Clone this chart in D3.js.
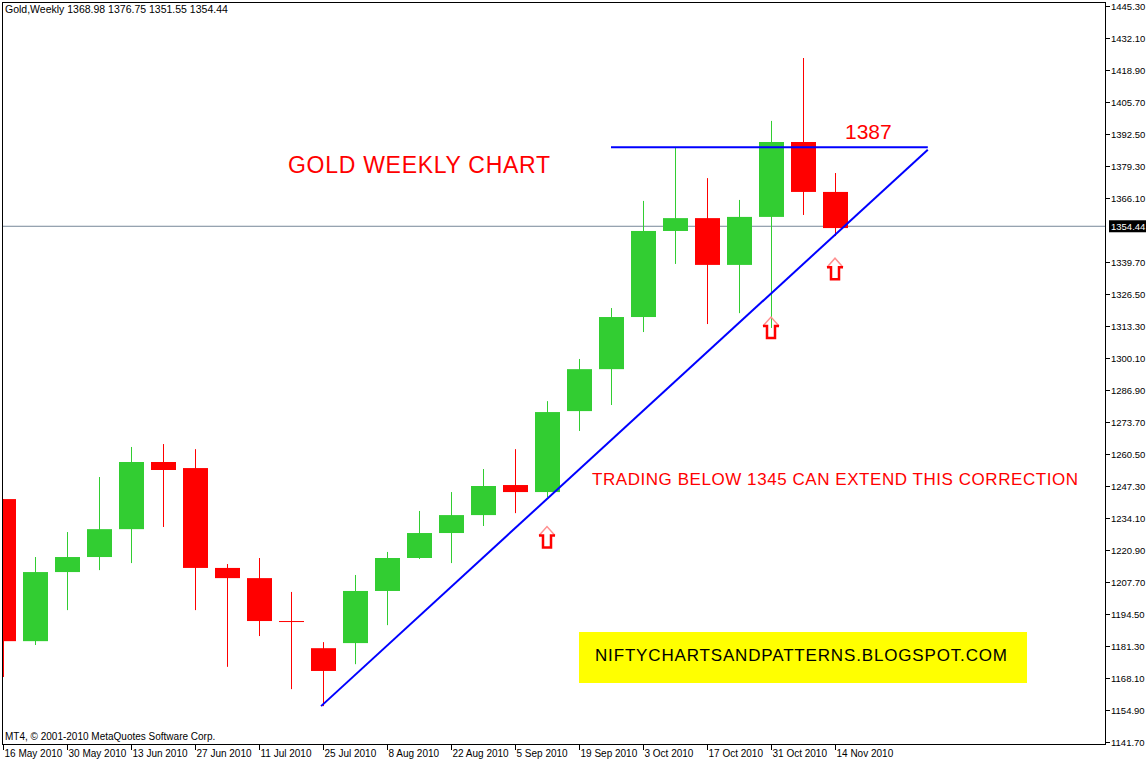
<!DOCTYPE html>
<html><head><meta charset="utf-8">
<script src="https://cdn.jsdelivr.net/npm/d3@7/dist/d3.min.js"></script>
<style>body{margin:0;background:#fff}svg{display:block}</style>
</head><body><div id="chart"></div>
<script>
// weekly candles, index 0 = 16 May 2010
const opens  = [1241.9,1183.3,1211.8,1218.0,1229.5,1257.2,1254.7,1213.5,1209.3,1191.6,1180.4,1182.5,1204.0,1217.6,1227.9,1235.3,1247.7,1244.8,1278.2,1295.5,1317.0,1352.5,1357.8,1338.5,1358.3,1389.2,1368.6];
const highs  = [1241.9,1218.0,1228.3,1251.0,1263.4,1264.6,1262.5,1215.1,1217.6,1203.6,1182.9,1210.6,1220.1,1237.0,1244.8,1254.3,1262.5,1282.3,1299.7,1320.7,1364.9,1386.7,1374.3,1365.3,1397.9,1423.85,1376.4];
const lows   = [1168.5,1181.7,1196.1,1212.6,1215.5,1230.4,1196.1,1172.7,1185.4,1163.5,1156.5,1173.8,1189.9,1217.2,1215.5,1230.8,1236.1,1242.7,1270.0,1280.7,1310.8,1338.9,1314.1,1318.6,1312.5,1359.1,1350.4];
const closes = [1183.3,1211.8,1218.0,1229.5,1257.2,1253.9,1213.5,1209.3,1191.6,1191.6,1171.0,1204.0,1217.6,1227.9,1235.3,1247.3,1244.8,1277.8,1295.5,1317.0,1352.5,1357.8,1338.5,1358.3,1389.2,1368.6,1353.7];
const dateLabels = ["16 May 2010","30 May 2010","13 Jun 2010","27 Jun 2010","11 Jul 2010","25 Jul 2010","8 Aug 2010","22 Aug 2010","5 Sep 2010","19 Sep 2010","3 Oct 2010","17 Oct 2010","31 Oct 2010","14 Nov 2010"];
const priceTicks = [1445.30,1432.10,1418.90,1405.70,1392.50,1379.30,1366.10,1339.70,1326.50,1313.30,1300.10,1286.90,1273.70,1260.50,1247.30,1234.10,1220.90,1207.70,1194.50,1181.30,1168.10,1154.90,1141.70];
const lastPrice = 1354.44;
const level = 1387;
const trendFrom = [9.94, 1156.5], trendTo = [28.9, 1386];
const arrowAt = [[17, 1231], [24, 1317.4], [26, 1341.7]];

const W = 1146, H = 762;
const sans = '"Liberation Sans", Arial, sans-serif';
const svg = d3.select('#chart').append('svg').attr('width', W).attr('height', H)
  .style('font-family', sans);

const x = d3.scaleLinear().domain([0, 1]).range([3, 35]);
const y = d3.scaleLinear().domain([1141.7, 1445.3]).range([742, 6]);

const plot = svg.append('g');
plot.append('clipPath').attr('id', 'clip').append('rect').attr('x', 2).attr('y', 2).attr('width', 1104).attr('height', 743);
const inner = plot.append('g').attr('clip-path', 'url(#clip)');

// last price line
inner.append('line').attr('x1', 2).attr('x2', 1106).attr('y1', y(lastPrice)).attr('y2', y(lastPrice))
  .attr('stroke', '#778899').attr('stroke-width', 1);

const cw = 24;
const candles = inner.selectAll('.candle').data(opens.map((o, i) => ({i, o, h: highs[i], l: lows[i], c: closes[i]})))
  .enter().append('g').attr('class', 'candle');
const col = d => d.c > d.o ? '#32cd32' : '#ff0000';
candles.append('line')
  .attr('x1', d => Math.round(x(d.i)) + 0.5).attr('x2', d => Math.round(x(d.i)) + 0.5)
  .attr('y1', d => y(d.h)).attr('y2', d => y(d.l)).attr('stroke', col);
candles.append('rect')
  .attr('x', d => Math.round(x(d.i)) - cw / 2).attr('width', cw + 1)
  .attr('y', d => y(Math.max(d.o, d.c)))
  .attr('height', d => Math.max(1, Math.abs(y(d.o) - y(d.c))))
  .attr('fill', col);

// blue lines
inner.append('line').attr('x1', x(19)).attr('x2', x(trendTo[0])).attr('y1', y(level)).attr('y2', y(level))
  .attr('stroke', '#0000ff').attr('stroke-width', 2);
inner.append('line').attr('x1', x(trendFrom[0])).attr('y1', y(trendFrom[1]))
  .attr('x2', x(trendTo[0])).attr('y2', y(trendTo[1]))
  .attr('stroke', '#0000ff').attr('stroke-width', 2);

// arrows (top of head at the value)
arrowAt.forEach(([i, v]) => {
  const g = inner.append('g').attr('transform', `translate(${x(i)},${y(v)})`);
  g.append('path').attr('d', 'M-8,10 L0,1 L8,10').attr('fill', 'none').attr('stroke', '#ff9090').attr('stroke-width', 1.5);
  g.append('path').attr('d', 'M-8,10 L-4,10 L-4,22 L4,22 L4,10 L8,10').attr('fill', 'none').attr('stroke', '#ff0000').attr('stroke-width', 2.5);
});

// texts
inner.append('text').attr('x', 288).attr('y', 173).attr('fill', '#ff0000')
  .attr('font-size', 23).attr('textLength', 262).text('GOLD WEEKLY CHART');
inner.append('text').attr('x', 845).attr('y', 139).attr('fill', '#ff0000')
  .attr('font-size', 21).text(level);
inner.append('text').attr('x', 592).attr('y', 485).attr('fill', '#ff0000')
  .attr('font-size', 17).attr('textLength', 486).text('TRADING BELOW 1345 CAN EXTEND THIS CORRECTION');
inner.append('rect').attr('x', 579).attr('y', 632).attr('width', 448).attr('height', 51).attr('fill', '#ffff00');
inner.append('text').attr('x', 801).attr('y', 661).attr('text-anchor', 'middle').attr('fill', '#000')
  .attr('font-size', 17).attr('textLength', 412)
  .text('NIFTYCHARTSANDPATTERNS.BLOGSPOT.COM');
inner.append('text').attr('x', 5).attr('y', 13).attr('font-size', 10.5).text('Gold,Weekly   1368.98 1376.75 1351.55 1354.44');
inner.append('text').attr('x', 5).attr('y', 740).attr('font-size', 10).text('MT4, © 2001-2010 MetaQuotes Software Corp.');

// frame
plot.append('rect').attr('x', 2.5).attr('y', 2.5).attr('width', 1103).attr('height', 742)
  .attr('fill', 'none').attr('stroke', '#000');

// axes
const ya = d3.axisRight(y).tickValues(priceTicks).tickSize(4).tickFormat(d3.format('.2f'));
svg.append('g').attr('transform', 'translate(1106,0)').call(ya)
  .call(g => { g.select('.domain').remove(); g.selectAll('text').attr('font-size', 9.5).attr('font-family', sans).attr('x', 5); });
const xa = d3.axisBottom(x).tickValues(dateLabels.map((_, i) => i * 2)).tickSize(5).tickFormat((d, i) => dateLabels[i]);
svg.append('g').attr('transform', 'translate(0,745)').call(xa)
  .call(g => { g.select('.domain').remove(); g.selectAll('text').attr('font-size', 10).attr('font-family', sans).attr('text-anchor', 'start').attr('x', 1).attr('y', 5).attr('dy', '0.71em'); });

// last price tag
svg.append('rect').attr('x', 1109).attr('y', y(lastPrice) - 6).attr('width', 37).attr('height', 12).attr('fill', '#000');
svg.append('text').attr('x', 1111).attr('y', y(lastPrice) + 4).attr('fill', '#fff').attr('font-size', 9.5).text(lastPrice.toFixed(2));
</script></body></html>
